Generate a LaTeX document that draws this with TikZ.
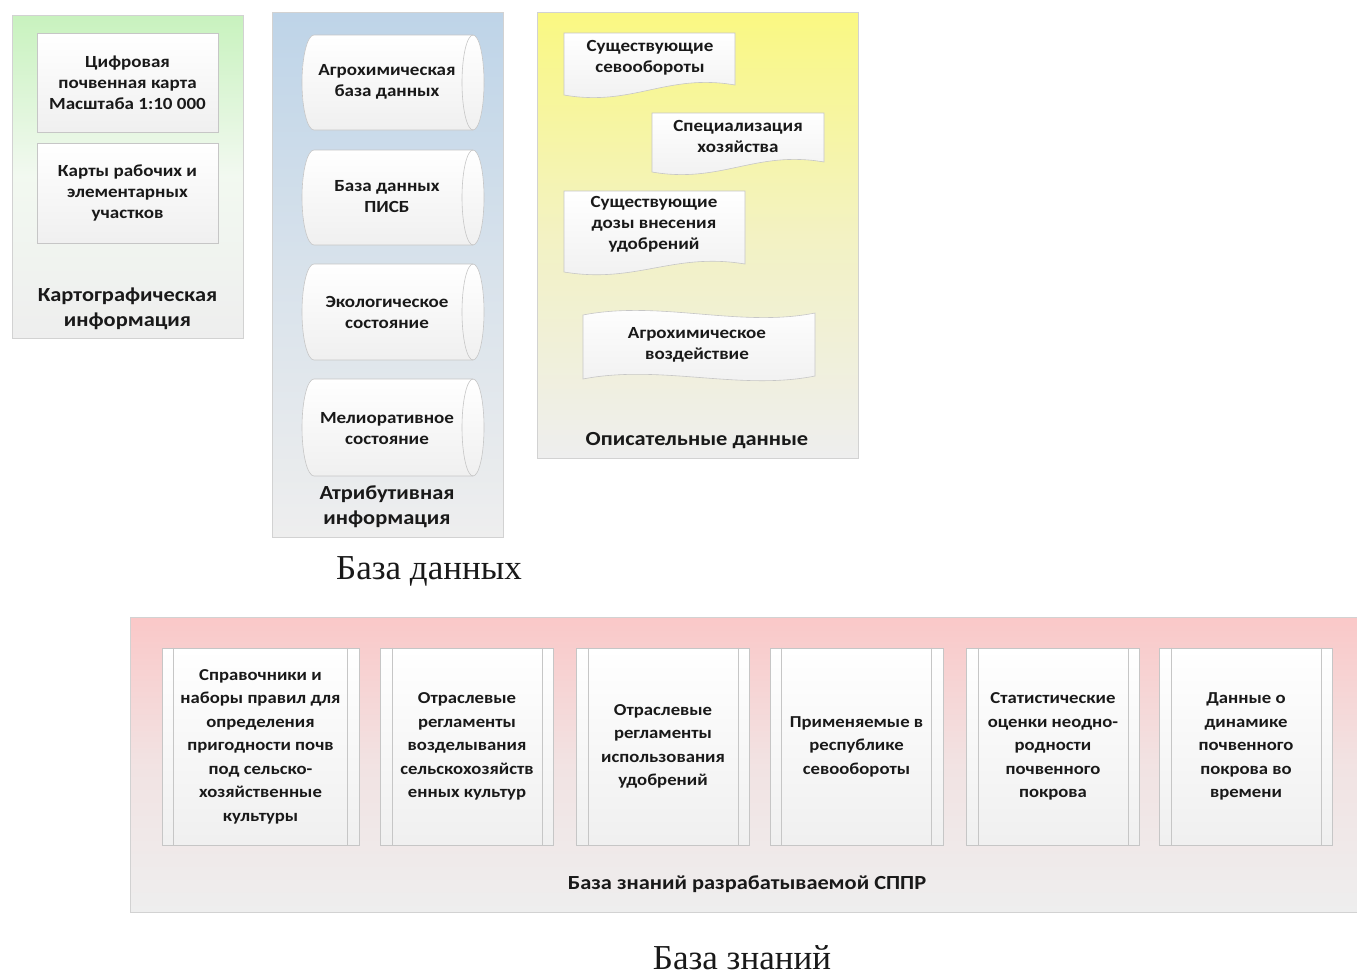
\documentclass[tikz,border=0pt]{standalone}
\usepackage{fontspec}
\setmainfont{Carlito}
\newfontfamily\wfont[FakeStretch=1.12]{Carlito}
\newfontfamily\capfont{Liberation Serif}
\definecolor{pgreen}{RGB}{200,242,190}
\definecolor{pblue}{RGB}{190,212,232}
\definecolor{pyellow}{RGB}{250,248,130}
\definecolor{ppink}{RGB}{250,200,200}
\definecolor{pgray}{RGB}{238,238,238}
\definecolor{tcol}{RGB}{25,25,25}
\tikzset{
  panel/.style={draw=gray!35, line width=0.8pt},
  boxsh/.style={draw=gray!45, line width=0.6pt, top color=white, bottom color=gray!12},
  boxtxt/.style={font=\wfont\bfseries\fontsize{17}{21}\selectfont, align=center, text=tcol},
  bigtxt/.style={font=\wfont\bfseries\fontsize{16.7}{23.5}\selectfont, align=center, text=tcol},
  lbltxt/.style={font=\wfont\bfseries\fontsize{20}{25}\selectfont, align=center, text=tcol},
  captxt/.style={font=\capfont\fontsize{35}{40}\selectfont, text=tcol},
  rectbox/.style={boxsh, rectangle, inner sep=0pt, boxtxt},
  procbox/.style={boxsh, rectangle, inner sep=0pt, bigtxt, minimum height=197, minimum width=173}
}
\newcommand{\cylpath}[4]{% x1 y1 x2 y2
  \path[boxsh] ({#1+12},#2) -- ({#3-11},#2)
    arc[start angle=-90, end angle=90, x radius=11, y radius={(#4-#2)/2}]
    -- ({#1+12},#4)
    arc[start angle=90, end angle=270, x radius=12, y radius={(#4-#2)/2}] -- cycle;
  \draw[gray!45, line width=0.6pt] ({#3-11},#2)
    arc[start angle=-90, end angle=-270, x radius=11, y radius={(#4-#2)/2}];
}
\newcommand{\docpath}[5]{% x1 y1 x2 yleftbottom yrightbottom
  \path[boxsh] (#1,#2) -- (#3,#2) -- (#3,#5)
    .. controls ({#1+0.6*(#3-#1)},{#5-12}) and ({#1+0.4*(#3-#1)},{#4+12}) .. (#1,#4) -- cycle;
}
\begin{document}
\begin{tikzpicture}[x=1pt,y=-1pt]
\useasboundingbox (0,0) rectangle (1357,975);
\fill[white] (0,0) rectangle (1357,975);

% ---------- green panel ----------
\path[panel, top color=pgreen, bottom color=pgray, middle color=pgray!60!pgreen!40!white] (12,15) rectangle (243,338);
\node[rectbox, minimum width=181, minimum height=99] (k1) at (127.5,82.5)
  {Цифровая\\почвенная карта\\Масштаба 1:10 000};
\node[rectbox, minimum width=181, minimum height=100] (k2) at (127.5,193)
  {Карты рабочих и\\элементарных\\участков};
\node[lbltxt] (kl) at (127.5,309) {Картографическая\\информация};

% ---------- blue panel ----------
\path[panel, top color=pblue, bottom color=pgray, middle color=pblue!45!pgray] (272,12) rectangle (503,537);
\cylpath{302}{35}{484}{130}
\node[boxtxt] (a1) at (387,82) {Агрохимическая\\база данных};
\cylpath{302}{150}{484}{245}
\node[boxtxt] (a2) at (387,197) {База данных\\ПИСБ};
\cylpath{302}{264}{484}{360}
\node[boxtxt] (a3) at (387,312) {Экологическое\\состояние};
\cylpath{302}{379}{484}{476}
\node[boxtxt] (a4) at (387,429) {Мелиоративное\\состояние};
\node[lbltxt] (al) at (387,507) {Атрибутивная\\информация};

% ---------- yellow panel ----------
\path[panel, top color=pyellow, bottom color=pgray, middle color=pyellow!40!pgray] (537,12) rectangle (858,458);
\docpath{564}{33}{735}{95}{85}
\node[boxtxt] (o1) at (650,58) {Существующие\\севообороты};
\docpath{652}{113}{824}{172}{162}
\node[boxtxt] (o2) at (738,136) {Специализация\\хозяйства};
\docpath{564}{191}{745}{272}{264}
\node[boxtxt] (o3) at (654,224) {Существующие\\дозы внесения\\удобрений};
\path[boxsh] (583,315) .. controls (660,300) and (740,328) .. (815,313)
  -- (815,376) .. controls (740,391) and (660,364) .. (583,379) -- cycle;
\node[boxtxt] (o4) at (697,345) {Агрохимическое\\воздействие};
\node[lbltxt] (ol) at (697,441) {Описательные данные};

\node[captxt] (cap1) at (429,571) {База данных};

% ---------- pink panel ----------
\path[panel, top color=ppink, bottom color=pgray, middle color=ppink!30!pgray] (130,617) rectangle (1362,912);
\node[procbox, minimum width=197] (z1) at (260.5,746.5)
  {Справочники и\\наборы правил для\\определения\\пригодности почв\\под сельско-\\хозяйственные\\культуры};
\node[procbox] (z2) at (467,746.5)
  {Отраслевые\\регламенты\\возделывания\\сельскохозяйств\\енных культур};
\node[procbox] (z3) at (663,746.5)
  {Отраслевые\\регламенты\\использования\\удобрений};
\node[procbox] (z4) at (856.5,746.5)
  {Применяемые в\\республике\\севообороты};
\node[procbox] (z5) at (1053,746.5)
  {Статистические\\оценки неодно-\\родности\\почвенного\\покрова};
\node[procbox] (z6) at (1246,746.5)
  {Данные о\\динамике\\почвенного\\покрова во\\времени};
\foreach \n in {z1,z2,z3,z4,z5,z6}{
  \draw[gray!45, line width=0.6pt] ([xshift=12pt]\n.north west) -- ([xshift=12pt]\n.south west);
  \draw[gray!45, line width=0.6pt] ([xshift=-12pt]\n.north east) -- ([xshift=-12pt]\n.south east);
}
\node[lbltxt] (zl) at (747,884) {База знаний разрабатываемой СППР};

\node[captxt, anchor=base, inner sep=0pt] (cap2) at (742,969) {База знаний};
\end{tikzpicture}
\end{document}
